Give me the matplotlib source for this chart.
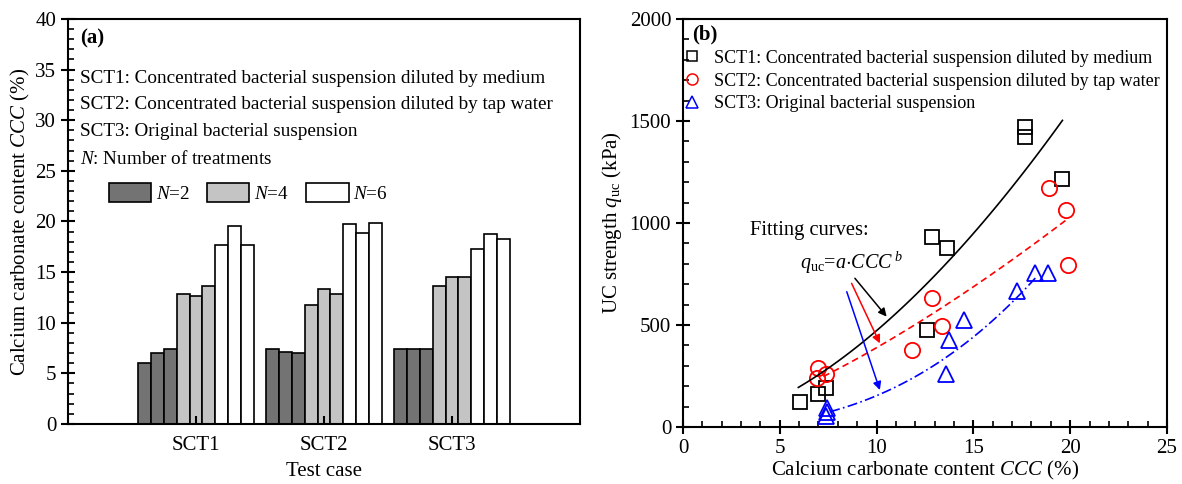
import matplotlib
matplotlib.use('Agg')
import matplotlib.pyplot as plt
from matplotlib.patches import Patch
from matplotlib.lines import Line2D
from matplotlib.ticker import MultipleLocator
import numpy as np

plt.rcParams['font.family'] = ['Liberation Serif', 'DejaVu Serif']
plt.rcParams['mathtext.fontset'] = 'custom'
plt.rcParams['mathtext.rm'] = 'Liberation Serif'
plt.rcParams['mathtext.it'] = 'Liberation Serif:italic'
plt.rcParams['mathtext.bf'] = 'Liberation Serif:bold'

# panel (a): CCC of each specimen, 3 specimens per N
cases = ['SCT1', 'SCT2', 'SCT3']
n_labels = ['$N$=2', '$N$=4', '$N$=6']
ccc_n2 = [[6.02, 6.98, 7.37], [7.37, 7.08, 7.05], [7.44, 7.44, 7.37]]
ccc_n4 = [[12.87, 12.6, 13.66], [11.8, 13.37, 12.87], [13.6, 14.48, 14.48]]
ccc_n6 = [[17.69, 19.56, 17.69], [19.79, 18.9, 19.89], [17.27, 18.8, 18.25]]
bar_colors = ['#737373', '#c4c4c4', '#ffffff']

# panel (b): CCC vs UCS
sct1_ccc = [6.02, 6.98, 7.37, 12.6, 12.87, 13.66, 17.69, 17.69, 19.56]
sct1_q = [124, 162, 190, 475, 933, 876, 1472, 1420, 1214]
sct2_ccc = [6.99, 6.9, 7.37, 11.81, 12.88, 13.36, 18.9, 19.78, 19.89]
sct2_q = [288, 239, 260, 377, 631, 497, 1170, 1064, 794]
sct3_ccc = [7.44, 7.44, 7.37, 13.57, 13.74, 14.51, 17.27, 18.18, 18.84]
sct3_q = [95, 72, 52, 260, 426, 524, 668, 753, 756]

# fitted power laws q = a*CCC^b
fit_a = [9.0, 15.3, 0.381]
fit_b = [1.72, 1.405, 2.605]
fit_range = [(5.96, 19.6), (7.25, 19.82), (7.6, 18.27)]

legend_b = ['SCT1: Concentrated bacterial suspension diluted by medium',
            'SCT2: Concentrated bacterial suspension diluted by tap water',
            'SCT3: Original bacterial suspension']

fig = plt.figure(figsize=(11.82, 4.84), dpi=100)
ax1 = fig.add_axes([0.0575, 0.124, 0.4332, 0.8368])
ax2 = fig.add_axes([0.5778, 0.1178, 0.4095, 0.843])

for ax in (ax1, ax2):
    for s in ax.spines.values():
        s.set_linewidth(1.5)
    ax.tick_params(labelsize=15, width=1.5)

# ---- (a)
w = 0.1
x = np.arange(1, 4)
groups = [ccc_n2, ccc_n4, ccc_n6]
for g, vals in enumerate(groups):
    for k in range(3):
        off = (g * 3 + k - 4) * w
        ax1.bar(x + off, [v[k] for v in vals], width=w, color=bar_colors[g],
                edgecolor='black', linewidth=1.2)
ax1.set_xlim(0, 4)
ax1.set_ylim(0, 40)
ax1.set_xticks(x)
ax1.set_xticklabels(cases)
ax1.yaxis.set_major_locator(MultipleLocator(5))
ax1.yaxis.set_minor_locator(MultipleLocator(1))
ax1.tick_params(axis='x', direction='in', length=6, pad=9)
ax1.tick_params(axis='y', which='major', direction='inout', length=10)
ax1.tick_params(axis='y', which='minor', direction='in', length=4, width=1.2)
ax1.set_xlabel('Test case', fontsize=15, labelpad=5)
ax1.set_ylabel('Calcium carbonate content $\\mathit{CCC}$ (%)', fontsize=15, labelpad=2)

ax1.text(0.0234, 0.953, '(a)', transform=ax1.transAxes, fontsize=15,
         fontweight='bold', va='center')
lines_a = ['SCT1: Concentrated bacterial suspension diluted by medium',
           'SCT2: Concentrated bacterial suspension diluted by tap water',
           'SCT3: Original bacterial suspension',
           '$N$: Number of treatments']
for t, yy in zip(lines_a, [0.853, 0.790, 0.723, 0.654]):
    ax1.text(0.0234, yy, t, transform=ax1.transAxes, fontsize=13.8, va='center')
handles = [Patch(facecolor=c, edgecolor='black', linewidth=1.2) for c in bar_colors]
ax1.legend(handles, n_labels, ncol=3, frameon=False, fontsize=13.8,
           loc='upper left', bbox_to_anchor=(0.08, 0.594), borderaxespad=0,
           borderpad=0, handlelength=2.2, handleheight=1.15, handletextpad=0.25,
           columnspacing=0.9)

# ---- (b)
ax2.plot(sct1_ccc, sct1_q, 's', mfc='none', mec='black', ms=10, mew=1.3)
ax2.plot(sct2_ccc, sct2_q, 'o', mfc='none', mec='red', ms=11, mew=1.3)
ax2.plot(sct3_ccc, sct3_q, '^', mfc='none', mec='blue', ms=12, mew=1.3)
styles = [('black', '-'), ('red', (0, (4, 2.5))), ('blue', (0, (6, 2, 1, 2)))]
for (c, ls), a, b, (x0, x1) in zip(styles, fit_a, fit_b, fit_range):
    xx = np.linspace(x0, x1, 100)
    ax2.plot(xx, a * xx ** b, color=c, linestyle=ls, linewidth=1.2)

ax2.set_xlim(0, 25)
ax2.set_ylim(0, 2000)
ax2.xaxis.set_major_locator(MultipleLocator(5))
ax2.xaxis.set_minor_locator(MultipleLocator(1))
ax2.yaxis.set_major_locator(MultipleLocator(500))
ax2.yaxis.set_minor_locator(MultipleLocator(100))
ax2.tick_params(which='major', direction='inout', length=10)
ax2.tick_params(which='minor', direction='in', length=4, width=1.2)
ax2.set_xlabel('Calcium carbonate content $\\mathit{CCC}$ (%)', fontsize=15, labelpad=1)
ax2.set_ylabel('UC strength $q_{\\mathrm{uc}}$ (kPa)', fontsize=15, labelpad=4)

ax2.text(0.0186, 0.961, '(b)', transform=ax2.transAxes, fontsize=15,
         fontweight='bold', va='center')
mk = [Line2D([], [], marker='s', ls='none', mfc='none', mec='black', ms=7, mew=1.1),
      Line2D([], [], marker='o', ls='none', mfc='none', mec='red', ms=8, mew=1.1),
      Line2D([], [], marker='^', ls='none', mfc='none', mec='blue', ms=9, mew=1.1)]
ax2.legend(mk, legend_b, frameon=False, fontsize=13.0, loc='upper left',
           bbox_to_anchor=(0.0, 0.925), borderaxespad=0, borderpad=0,
           handlelength=1.0, handletextpad=0.7, labelspacing=0.33)

ax2.text(3.46, 962, 'Fitting curves:', fontsize=14.8, va='center')
ax2.text(6.04, 804, '$q_{\\mathrm{uc}}$=$a$$\\cdot$$\\mathit{CCC}^{\\,b}$', fontsize=14.5, va='center')
arrows = [('black', (8.88, 729), (10.52, 541)),
          ('red', (8.71, 704), (10.17, 410)),
          ('blue', (8.46, 663), (10.17, 181))]
for c, p0, p1 in arrows:
    ax2.annotate('', xy=p1, xytext=p0,
                 arrowprops=dict(arrowstyle='-|>', color=c, lw=1.1,
                                 mutation_scale=12, shrinkA=0, shrinkB=0))

fig.savefig('out.png', dpi=100)
